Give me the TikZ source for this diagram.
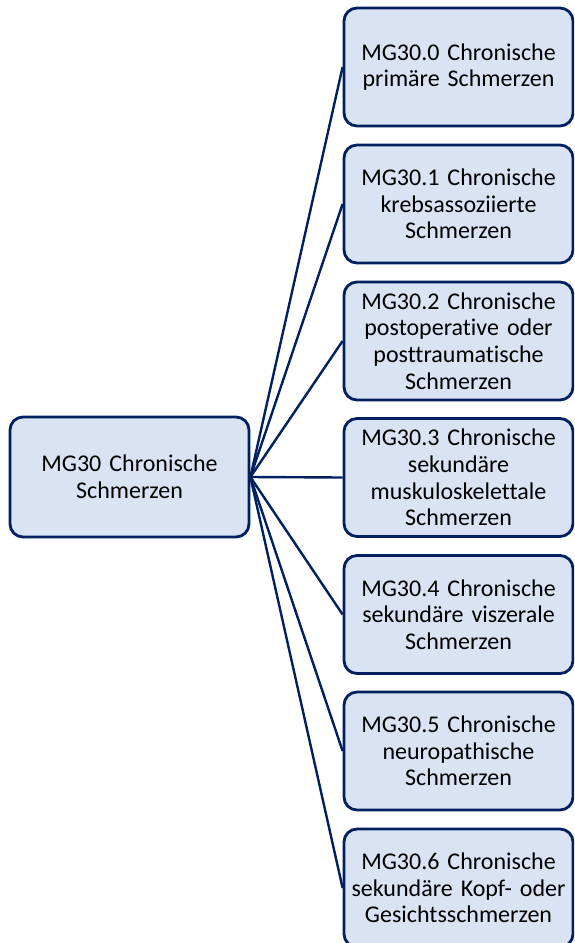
\documentclass[tikz,border=0pt]{standalone}
\usepackage{fontspec}
\setmainfont[Ligatures=NoCommon]{Carlito}
\definecolor{boxfill}{RGB}{218,227,243}
\definecolor{navy}{RGB}{0,32,96}
\begin{document}
\begin{tikzpicture}[x=1pt,y=-1pt,
  catbox/.style={draw=navy, line width=2.8pt, fill=boxfill, rounded corners=13pt,
    inner sep=0pt, align=center, text width=224pt,
    font=\fontsize{24}{26.6}\selectfont},
  link/.style={draw=navy, line width=2.4pt}]
\clip (0,0) rectangle (574,943);
% root box
\node[catbox, minimum width=239pt, minimum height=120pt, text width=230pt]
  (root) at (129.5,477) {MG30 Chronische\\Schmerzen};
% child boxes
\foreach \i/\y/\t in {
  0/67/{MG30.0 Chronische\\primäre Schmerzen},
  1/204/{MG30.1 Chronische\\krebsassoziierte\\Schmerzen},
  2/341/{MG30.2 Chronische\\postoperative oder\\posttraumatische\\Schmerzen},
  3/477.5/{MG30.3 Chronische\\sekundäre\\muskuloskelettale\\Schmerzen},
  4/614.5/{MG30.4 Chronische\\sekundäre viszerale\\Schmerzen},
  5/751/{MG30.5 Chronische\\neuropathische\\Schmerzen},
  6/888/{MG30.6 Chronische\\sekundäre Kopf- oder\\Gesichtsschmerzen}}
{
  \node[catbox, minimum width=229pt, minimum height=118pt] (c\i) at (458.5,\y) {\t};
}
% connectors from the root to every child
\foreach \i in {0,...,6}
  \draw[link] (root.east) -- (c\i.west);
\end{tikzpicture}
\end{document}
